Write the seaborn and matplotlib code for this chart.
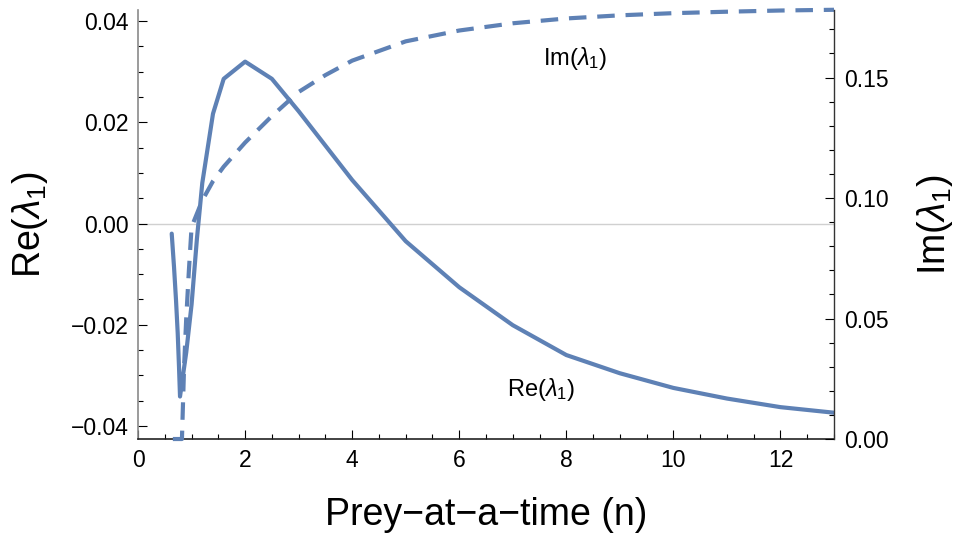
import matplotlib
matplotlib.use("Agg")
import matplotlib.pyplot as plt
from matplotlib.ticker import MultipleLocator, FuncFormatter
import seaborn as sns
import pandas as pd

# Real part of the leading eigenvalue vs. prey handled at a time
re_n = [0.629, 0.672, 0.709, 0.741, 0.765, 0.784, 0.9, 1.0, 1.1, 1.2, 1.4, 1.6,
        2.0, 2.5, 3.0, 4.0, 5.0, 6.0, 7.0, 8.0, 9.0, 10.0, 11.0, 12.0, 13.0]
re_vals = [-0.0020, -0.0086, -0.0151, -0.0217, -0.0283, -0.0342, -0.0255, -0.0160,
           -0.0030, 0.0080, 0.0217, 0.0286, 0.0320, 0.0286, 0.0222, 0.0086,
           -0.0035, -0.0126, -0.0201, -0.0260, -0.0296, -0.0325, -0.0346,
           -0.0363, -0.0374]

# Imaginary part of the leading eigenvalue
im_n = [0.65, 0.82, 0.86, 0.9, 0.95, 1.0, 1.2, 1.4, 1.6, 2.0, 2.5, 3.0, 3.5, 4.0,
        5.0, 6.0, 7.0, 8.0, 9.0, 10.0, 11.0, 12.0, 13.0]
im_vals = [0.0, 0.0, 0.030, 0.050, 0.070, 0.088, 0.099, 0.107, 0.113, 0.123, 0.134,
           0.144, 0.151, 0.157, 0.165, 0.1695, 0.1725, 0.1745, 0.1758, 0.1767,
           0.1773, 0.1778, 0.1781]

re_df = pd.DataFrame({"n": re_n, "re": re_vals})
im_df = pd.DataFrame({"n": im_n, "im": im_vals})

sns.set_theme(style="white")
plt.rcParams["font.family"] = ["Liberation Sans", "DejaVu Sans"]
plt.rcParams["mathtext.fontset"] = "custom"
plt.rcParams["mathtext.rm"] = "Liberation Sans"
plt.rcParams["mathtext.it"] = "Liberation Sans:italic"
for key in ("text.color", "axes.labelcolor", "xtick.color", "ytick.color"):
    plt.rcParams[key] = "black"

LINE = "#5e81b5"
TICK_FS = 16.5
LABEL_FS = 27
INNER_FS = 17


def two_decimals(v, _pos):
    return f"{v:.2f}".replace("-", "\u2212")


fig = plt.figure(figsize=(9.54, 5.39), dpi=100)
ax = fig.add_axes([0.1447, 0.1855, 0.7295, 0.7959])
ax2 = ax.twinx()

ax.axhline(0, color="#d0d0d0", lw=1.0, zorder=0)

sns.lineplot(data=re_df, x="n", y="re", ax=ax, color=LINE, lw=3.0,
             estimator=None, sort=False)
sns.lineplot(data=im_df, x="n", y="im", ax=ax2, color=LINE, lw=3.0,
             estimator=None, sort=False, linestyle=(0, (4.2, 2.6)),
             clip_on=False)

ax.set_xlim(0, 13)
ax.set_ylim(-0.0426, 0.0422)
ax2.set_ylim(0, 0.178)

ax.xaxis.set_major_locator(MultipleLocator(2))
ax.xaxis.set_minor_locator(MultipleLocator(0.5))
ax.yaxis.set_major_locator(MultipleLocator(0.02))
ax.yaxis.set_minor_locator(MultipleLocator(0.005))
ax.yaxis.set_major_formatter(FuncFormatter(two_decimals))
ax2.yaxis.set_major_locator(MultipleLocator(0.05))
ax2.yaxis.set_minor_locator(MultipleLocator(0.01))
ax2.yaxis.set_major_formatter(FuncFormatter(two_decimals))

for a in (ax, ax2):
    a.tick_params(which="major", direction="in", length=6.5, width=0.8,
                  color="black", labelsize=TICK_FS, pad=7)
    a.tick_params(which="minor", direction="in", length=3.8, width=0.8,
                  color="black")
    a.spines["top"].set_visible(False)
ax.tick_params(axis="x", which="both", bottom=True)
ax.tick_params(axis="y", which="both", left=True)
ax2.tick_params(axis="y", which="both", right=True)

ax.spines["left"].set_color("#8a8a8a")
ax.spines["bottom"].set_color("#222222")
ax.spines["right"].set_visible(False)
ax2.spines["left"].set_visible(False)
ax2.spines["bottom"].set_visible(False)
ax2.spines["right"].set_color("#333333")
for s in ("left", "bottom"):
    ax.spines[s].set_linewidth(1.2)
ax2.spines["right"].set_linewidth(1.0)

ax.set_xlabel("Prey\u2212at\u2212a\u2212time (n)", fontsize=LABEL_FS)
ax.set_ylabel(r"Re($\lambda_1$)", fontsize=LABEL_FS)
ax2.set_ylabel(r"Im($\lambda_1$)", fontsize=LABEL_FS)
ax.xaxis.set_label_coords(0.5, -0.135)
ax.yaxis.set_label_coords(-0.126, 0.5)
ax2.yaxis.set_label_coords(1.116, 0.5)

ax2.text(8.17, 0.158, r"Im($\lambda_1$)", fontsize=INNER_FS,
         ha="center", va="center")
ax.text(7.52, -0.0329, r"Re($\lambda_1$)", fontsize=INNER_FS,
        ha="center", va="center")

fig.savefig("out.png", dpi=100)
